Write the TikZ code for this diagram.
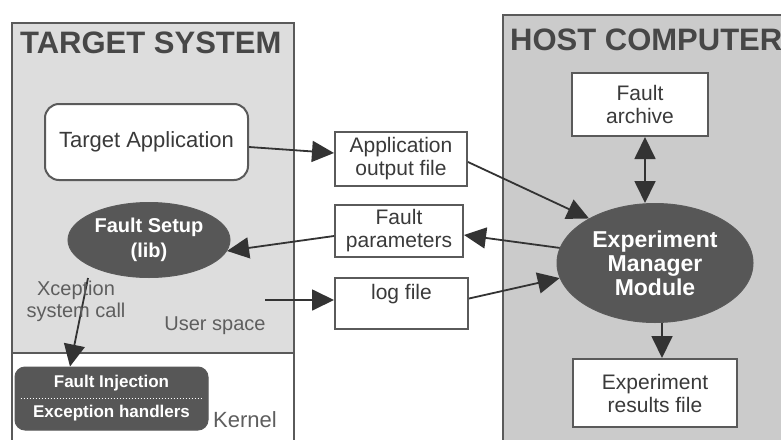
\documentclass[tikz,border=0pt]{standalone}
\usepackage{fontspec}
\setmainfont{Liberation Sans}
\usetikzlibrary{positioning,arrows.meta,shapes.geometric}
\definecolor{targetBg}{HTML}{DDDDDD}
\definecolor{hostBg}{HTML}{CBCBCB}
\definecolor{darkFill}{HTML}{575757}
\definecolor{lineGrey}{HTML}{333333}
\definecolor{edgeGrey}{HTML}{5A5A5A}
\definecolor{textGrey}{HTML}{3A3A3A}
\definecolor{labelGrey}{HTML}{5E5E5E}

\begin{document}
\begin{tikzpicture}[
    x=1pt, y=-1pt,
    >={Triangle[length=22pt,width=21pt]},
    every node/.style = {align=center, inner sep=0pt, text=textGrey},
    region/.style     = {draw=edgeGrey, line width=1.6pt, anchor=north west},
    title/.style      = {font=\fontsize{31}{32}\selectfont\bfseries, anchor=west,
                         text=black!72},
    filebox/.style    = {draw=edgeGrey, line width=2pt, fill=white,
                         font=\fontsize{21}{23}\selectfont},
    blob/.style       = {ellipse, draw=edgeGrey, line width=1pt, fill=darkFill,
                         text=white},
    kbox/.style       = {draw=edgeGrey, line width=1pt, fill=darkFill,
                         rounded corners=10pt},
    ktext/.style      = {text=white, font=\fontsize{17}{18}\selectfont\bfseries},
    note/.style       = {font=\fontsize{20}{22}\selectfont, text=labelGrey},
    arrow/.style      = {->, draw=lineGrey, line width=1.8pt},
    biarrow/.style    = {<->, draw=lineGrey, line width=1.8pt},
  ]

  \useasboundingbox (0,0) rectangle (781,439);
  \fill[white] (0,0) rectangle (781,439);
  \clip (0,0) rectangle (781,439);

  %% Target system: user space on top, kernel underneath
  \node[region, fill=targetBg, minimum width=282, minimum height=330] (user)   at (11,22)  {};
  \node[region, fill=white,    minimum width=282, minimum height=100] (kernel) at (11,352) {};
  \node[title] (tstitle) at (20,43) {TARGET SYSTEM};

  %% Host computer (runs off the right and bottom edges)
  \node[region, fill=hostBg, minimum width=300, minimum height=440] (host) at (502,14) {};
  \node[title] (hctitle) at (510,40) {HOST COMPUTER};

  %% Target side nodes
  \node[filebox, rounded corners=14pt, minimum width=203, minimum height=76,
        font=\fontsize{22}{24}\selectfont] (tapp) at (146.5,142) {Target Application};
  \node[blob, minimum width=162, minimum height=75,
        font=\fontsize{20}{25}\selectfont\bfseries] (setup) at (149,240) {Fault Setup\\(lib)};
  \node[kbox, minimum width=193, minimum height=63] (kern) at (111.5,398.5) {};
  \node[ktext] (inj) at (111.5,383) {Fault Injection};
  \node[ktext] (exc) at (111.5,413) {Exception handlers};
  \draw[white, dotted, line width=1pt] ([xshift=6pt]kern.west) -- ([xshift=-6pt]kern.east);

  \node[note] (uspace)  at (215,326) {User space};
  \node[note, font=\fontsize{22}{24}\selectfont] (kernlbl) at (245,420) {Kernel};
  \coordinate (usrc) at (265,300);

  %% Files in between
  \node[filebox, minimum width=132, minimum height=54] (appout) at (401,159)   {Application\\output file};
  \node[filebox, minimum width=128, minimum height=52] (fparam) at (399,231)   {Fault\\parameters};
  \node[filebox, minimum width=133, minimum height=51] (logf)   at (401.5,303.5) {log file\\\phantom{X}};

  %% Host side nodes
  \node[filebox, minimum width=136, minimum height=63] (archive) at (640,104.5) {Fault\\archive};
  \node[blob, minimum width=196, minimum height=119,
        font=\fontsize{23}{24}\selectfont\bfseries] (emm) at (655,263) {Experiment\\Manager\\Module};
  \node[filebox, minimum width=164, minimum height=68] (results) at (655,393) {Experiment\\results file};

  %% Connectors
  \draw[arrow] ([yshift=-5pt]tapp.east) -- ([yshift=6pt]appout.west);
  \draw[arrow] ([xshift=-61pt]setup.south) -- ([xshift=-41.5pt]kern.north);
  \node[note] (xcall) at (76,301) {Xception\\system call};
  \draw[arrow] ([yshift=-5pt]fparam.west) -- (setup.-8);
  \draw[arrow] (usrc) -- ([yshift=3.5pt]logf.west);

  \draw[arrow] ([yshift=-3pt]appout.east) -- (emm.146);
  \draw[arrow] (emm.171) -- ([yshift=-4pt]fparam.east);
  \draw[arrow] ([yshift=5pt]logf.east) -- (emm.189);
  \draw[biarrow] ([xshift=5pt]archive.south) -- ([xshift=-10pt]emm.north);
  \draw[arrow] ([xshift=7pt]emm.south) -- ([xshift=7pt]results.north);

\end{tikzpicture}
\end{document}
